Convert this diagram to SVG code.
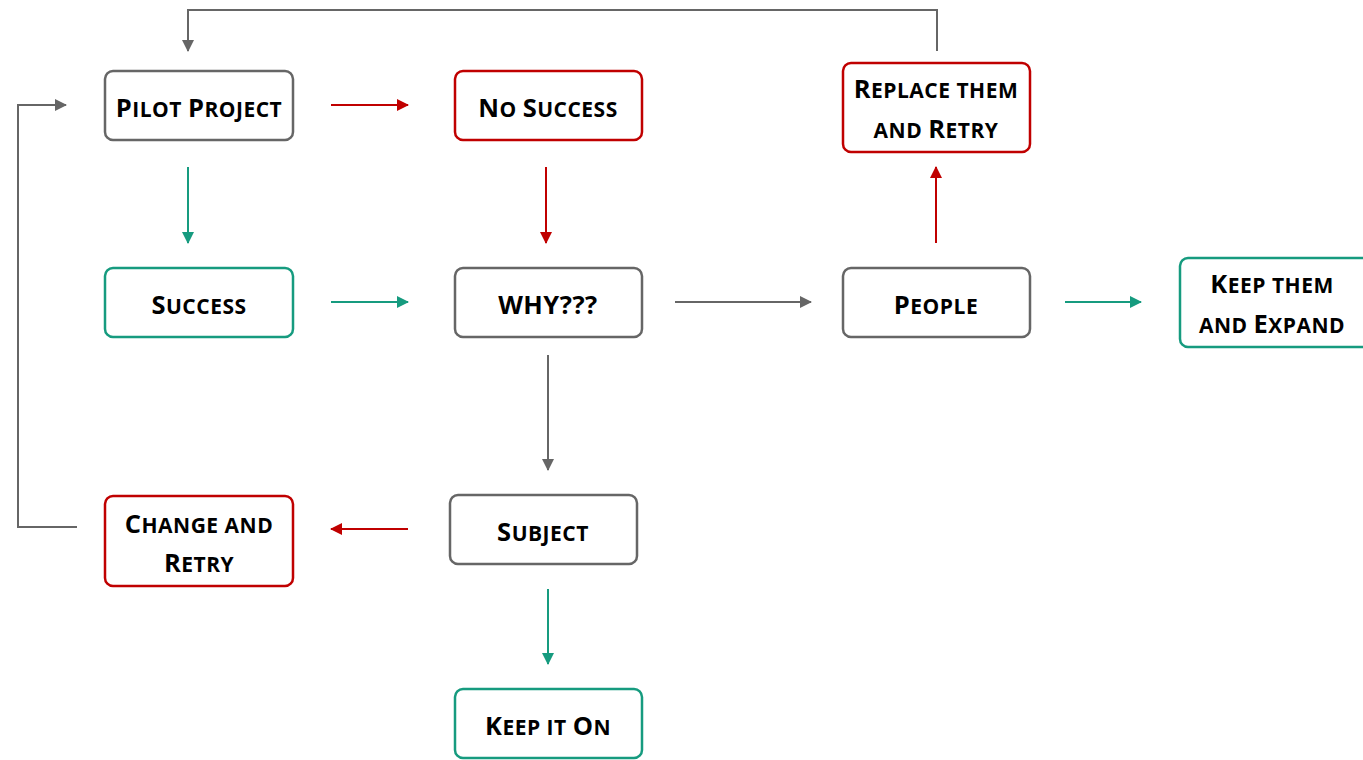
<svg xmlns="http://www.w3.org/2000/svg" width="1363" height="760" viewBox="0 0 1363 760">
<style>
.box{fill:#fff;stroke-width:2.5}
.g{stroke:#666}
.r{stroke:#c00000}
.t{stroke:#169b7f}
text{font-family:"Open Sans","Liberation Sans",sans-serif;font-weight:bold;font-size:21px;letter-spacing:0.5px;text-transform:uppercase;fill:#000;text-anchor:middle}
.u{font-size:25.5px}
.c{fill:none;stroke-width:2}
</style>
<defs>
<marker id="ag" viewBox="0 0 12 12" refX="11" refY="6" markerWidth="12" markerHeight="12" markerUnits="userSpaceOnUse" orient="auto"><path d="M0,0 L12,6 L0,12 Z" fill="#666"/></marker>
<marker id="ar" viewBox="0 0 12 12" refX="11" refY="6" markerWidth="12" markerHeight="12" markerUnits="userSpaceOnUse" orient="auto"><path d="M0,0 L12,6 L0,12 Z" fill="#c00000"/></marker>
<marker id="at" viewBox="0 0 12 12" refX="11" refY="6" markerWidth="12" markerHeight="12" markerUnits="userSpaceOnUse" orient="auto"><path d="M0,0 L12,6 L0,12 Z" fill="#169b7f"/></marker>
</defs>
<g id="connectors">
<path class="c r" d="M331,105 H408" marker-end="url(#ar)"/>
<path class="c t" d="M188,167 V243" marker-end="url(#at)"/>
<path class="c r" d="M546,167 V243" marker-end="url(#ar)"/>
<path class="c t" d="M331,302 H408" marker-end="url(#at)"/>
<path class="c g" d="M675,302 H811" marker-end="url(#ag)"/>
<path class="c t" d="M1065,302 H1141" marker-end="url(#at)"/>
<path class="c r" d="M936,243 V167" marker-end="url(#ar)"/>
<path class="c g" d="M937,51 V10 H188 V51" marker-end="url(#ag)"/>
<path class="c g" d="M548,355 V470" marker-end="url(#ag)"/>
<path class="c r" d="M408,529 H331" marker-end="url(#ar)"/>
<path class="c g" d="M77,527 H18 V105 H66" marker-end="url(#ag)"/>
<path class="c t" d="M548,589 V664" marker-end="url(#at)"/>
</g>
<g id="pilot"><rect class="box g" x="105" y="71" width="188" height="69" rx="8"/><text x="199" y="117"><tspan class="u">P</tspan>ilot <tspan class="u">P</tspan>roject</text></g>
<g id="nosuccess"><rect class="box r" x="455" y="71" width="187" height="69" rx="8"/><text x="548" y="117"><tspan class="u">N</tspan>o <tspan class="u">S</tspan>uccess</text></g>
<g id="replace"><rect class="box r" x="843" y="63" width="187" height="89" rx="8"/><text x="936" y="98"><tspan class="u">R</tspan>eplace them</text><text x="936" y="138">and <tspan class="u">R</tspan>etry</text></g>
<g id="success"><rect class="box t" x="105" y="268" width="188" height="69" rx="8"/><text x="199" y="314"><tspan class="u">S</tspan>uccess</text></g>
<g id="why"><rect class="box g" x="455" y="268" width="187" height="69" rx="8"/><text x="548" y="314" class="u">WHY???</text></g>
<g id="people"><rect class="box g" x="843" y="268" width="187" height="69" rx="8"/><text x="936" y="314"><tspan class="u">P</tspan>eople</text></g>
<g id="keepthem"><rect class="box t" x="1180" y="258" width="190" height="89" rx="8"/><text x="1272" y="293"><tspan class="u">K</tspan>eep them</text><text x="1272" y="333">and <tspan class="u">E</tspan>xpand</text></g>
<g id="change"><rect class="box r" x="105" y="496" width="188" height="90" rx="8"/><text x="199" y="533"><tspan class="u">C</tspan>hange and</text><text x="199" y="572"><tspan class="u">R</tspan>etry</text></g>
<g id="subject"><rect class="box g" x="450" y="495" width="187" height="69" rx="8"/><text x="543" y="541"><tspan class="u">S</tspan>ubject</text></g>
<g id="keepiton"><rect class="box t" x="455" y="689" width="187" height="69" rx="8"/><text x="548" y="735"><tspan class="u">K</tspan>eep it <tspan class="u">O</tspan>n</text></g>
</svg>
